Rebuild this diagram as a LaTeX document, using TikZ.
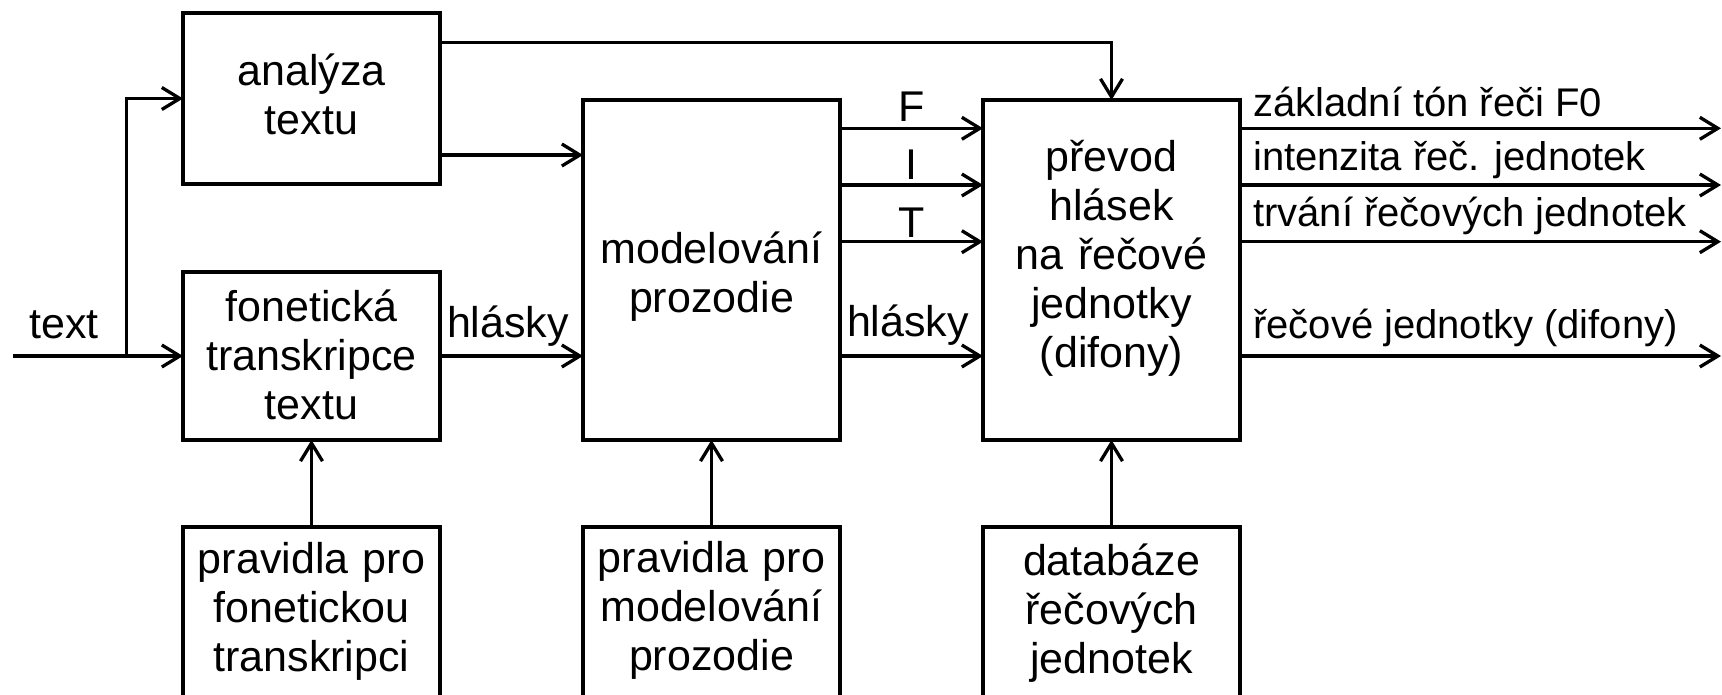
\documentclass[tikz,border=0pt]{standalone}
\usepackage{fontspec}
\setmainfont{Liberation Sans}
\usetikzlibrary{arrows.meta}

\begin{document}
\begin{tikzpicture}[x=1pt,y=-1pt,
  block/.style={draw, line width=4pt, minimum width=257pt, inner sep=0pt, outer sep=0pt},
  boxtext/.style={font=\fontsize{43}{49}\selectfont, align=center, text width=257pt, anchor=base, inner sep=0pt},
  lbl/.style={font=\fontsize{43}{49}\selectfont, anchor=base, inner sep=0pt},
  outlbl/.style={font=\fontsize{40}{46}\selectfont, anchor=base west, inner sep=0pt},
  flow/.style={line width=3.3pt, -{Straight Barb[length=18pt,width=22pt,line width=3.3pt]}}]

\useasboundingbox (0,0) rectangle (1722,694);
\clip (0,0) rectangle (1722,694);

% processing blocks
\node[block, minimum height=171pt] (A) at (311.5,98.5) {};
\node[block, minimum height=168pt] (B) at (311.5,356) {};
\node[block, minimum height=340pt] (C) at (711.5,270) {};
\node[block, minimum height=340pt] (D) at (1111.5,270) {};
% rule and data blocks along the bottom
\node[block, minimum height=193pt] (E) at (311.5,623.5) {};
\node[block, minimum height=193pt] (F) at (711.5,623.5) {};
\node[block, minimum height=193pt] (G) at (1111.5,623.5) {};

% block captions
\node[boxtext] (At) at (311.5,85) {analýza\\textu};
\node[boxtext] (Bt) at (311.5,321.7) {fonetická\\transkripce\\textu};
\node[boxtext] (Ct) at (711.5,263.3) {modelování\\prozodie};
\node[boxtext] (Dt) at (1111.5,171.7) {převod\\hlásek\\na řečové\\jednotky\\(difony)};
\node[boxtext] (Et) at (311.5,573.5) {pravidla pro\\fonetickou\\transkripci};
\node[boxtext] (Ft) at (711.5,572) {pravidla pro\\modelování\\prozodie};
\node[boxtext] (Gt) at (1111.5,575) {databáze\\řečových\\jednotek};

% input
\coordinate (in) at (13,356);
\coordinate (split) at (126.7,356);
\draw[flow] (in) -- (B.west);
\draw[flow] (split) |- (A.west);
\node[lbl] (Lin) at (64,338.3) {text};

% from text analysis
\coordinate (a1) at (440,42.7);
\coordinate (a2) at (440,155);
\draw[flow] (a1) -| (D.north);
\draw[flow] (a2) -- (a2 -| C.west);

% phonetic transcription to prosody
\draw[flow] (B.east) -- (B.east -| C.west);
\node[lbl] (Lh1) at (508,337) {hlásky};

% prosody to unit conversion
\coordinate (yF) at (0,128.3);
\coordinate (yI) at (0,185);
\coordinate (yT) at (0,241.7);
\coordinate (yH) at (0,356);
\draw[flow] (C.east |- yF) -- (D.west |- yF);
\draw[flow] (C.east |- yI) -- (D.west |- yI);
\draw[flow] (C.east |- yT) -- (D.west |- yT);
\draw[flow] (C.east |- yH) -- (D.west |- yH);
\node[lbl] (LF) at (911.7,121.7) {F};
\node[lbl] (LI) at (911.7,179.3) {I};
\node[lbl] (LT) at (911.7,237.3) {T};
\node[lbl] (Lh2) at (908,336) {hlásky};

% outputs
\coordinate (o1) at (1721,128.3);
\coordinate (o2) at (1721,185);
\coordinate (o3) at (1721,241.7);
\coordinate (o4) at (1721,356);
\draw[flow] (D.east |- o1) -- (o1);
\draw[flow] (D.east |- o2) -- (o2);
\draw[flow] (D.east |- o3) -- (o3);
\draw[flow] (D.east |- o4) -- (o4);
\node[outlbl] (O1) at (1253,116.7) {základní tón řeči F0};
\node[outlbl] (O2) at (1253,170) {intenzita řeč. jednotek};
\node[outlbl] (O3) at (1253,226.7) {trvání řečových jednotek};
\node[outlbl] (O4) at (1253,338) {řečové jednotky (difony)};

% rules and database feed the blocks above
\draw[flow] (E.north) -- (B.south);
\draw[flow] (F.north) -- (C.south);
\draw[flow] (G.north) -- (D.south);
\end{tikzpicture}
\end{document}
